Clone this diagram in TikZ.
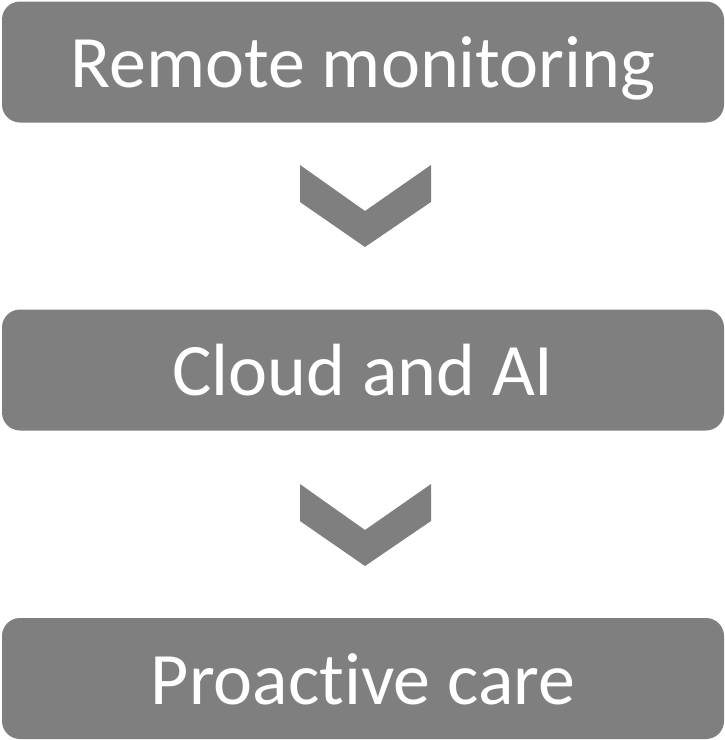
\documentclass[tikz,border=0pt]{standalone}
\usepackage{fontspec}
\setmainfont{Carlito}[Ligatures={NoCommon}]
\usetikzlibrary{positioning}

\definecolor{boxgray}{RGB}{127,127,127}

\begin{document}
\begin{tikzpicture}[x=1pt, y=-1pt,
  stage/.style={fill=boxgray, text=white, rounded corners=18pt, inner sep=0pt,
    minimum width=722pt, minimum height=121pt, text height=51pt, text depth=0pt,
    font=\fontsize{74}{88}\selectfont}]
  \useasboundingbox (0,0) rectangle (725,740);

  \node[stage] (remote) at (363,62) {Remote monitoring};
  \node[stage] (cloud) at (363,370) {Cloud and AI};
  \node[stage] (proactive) at (363,678.5) {Proactive care};

  % chevrons between the stages
  \foreach \y in {165, 484}
    \fill[boxgray] (300,\y) -- (365,{\y+46}) -- (431,\y) -- (431,{\y+37})
      -- (365,{\y+82}) -- (300,{\y+37}) -- cycle;
\end{tikzpicture}
\end{document}
